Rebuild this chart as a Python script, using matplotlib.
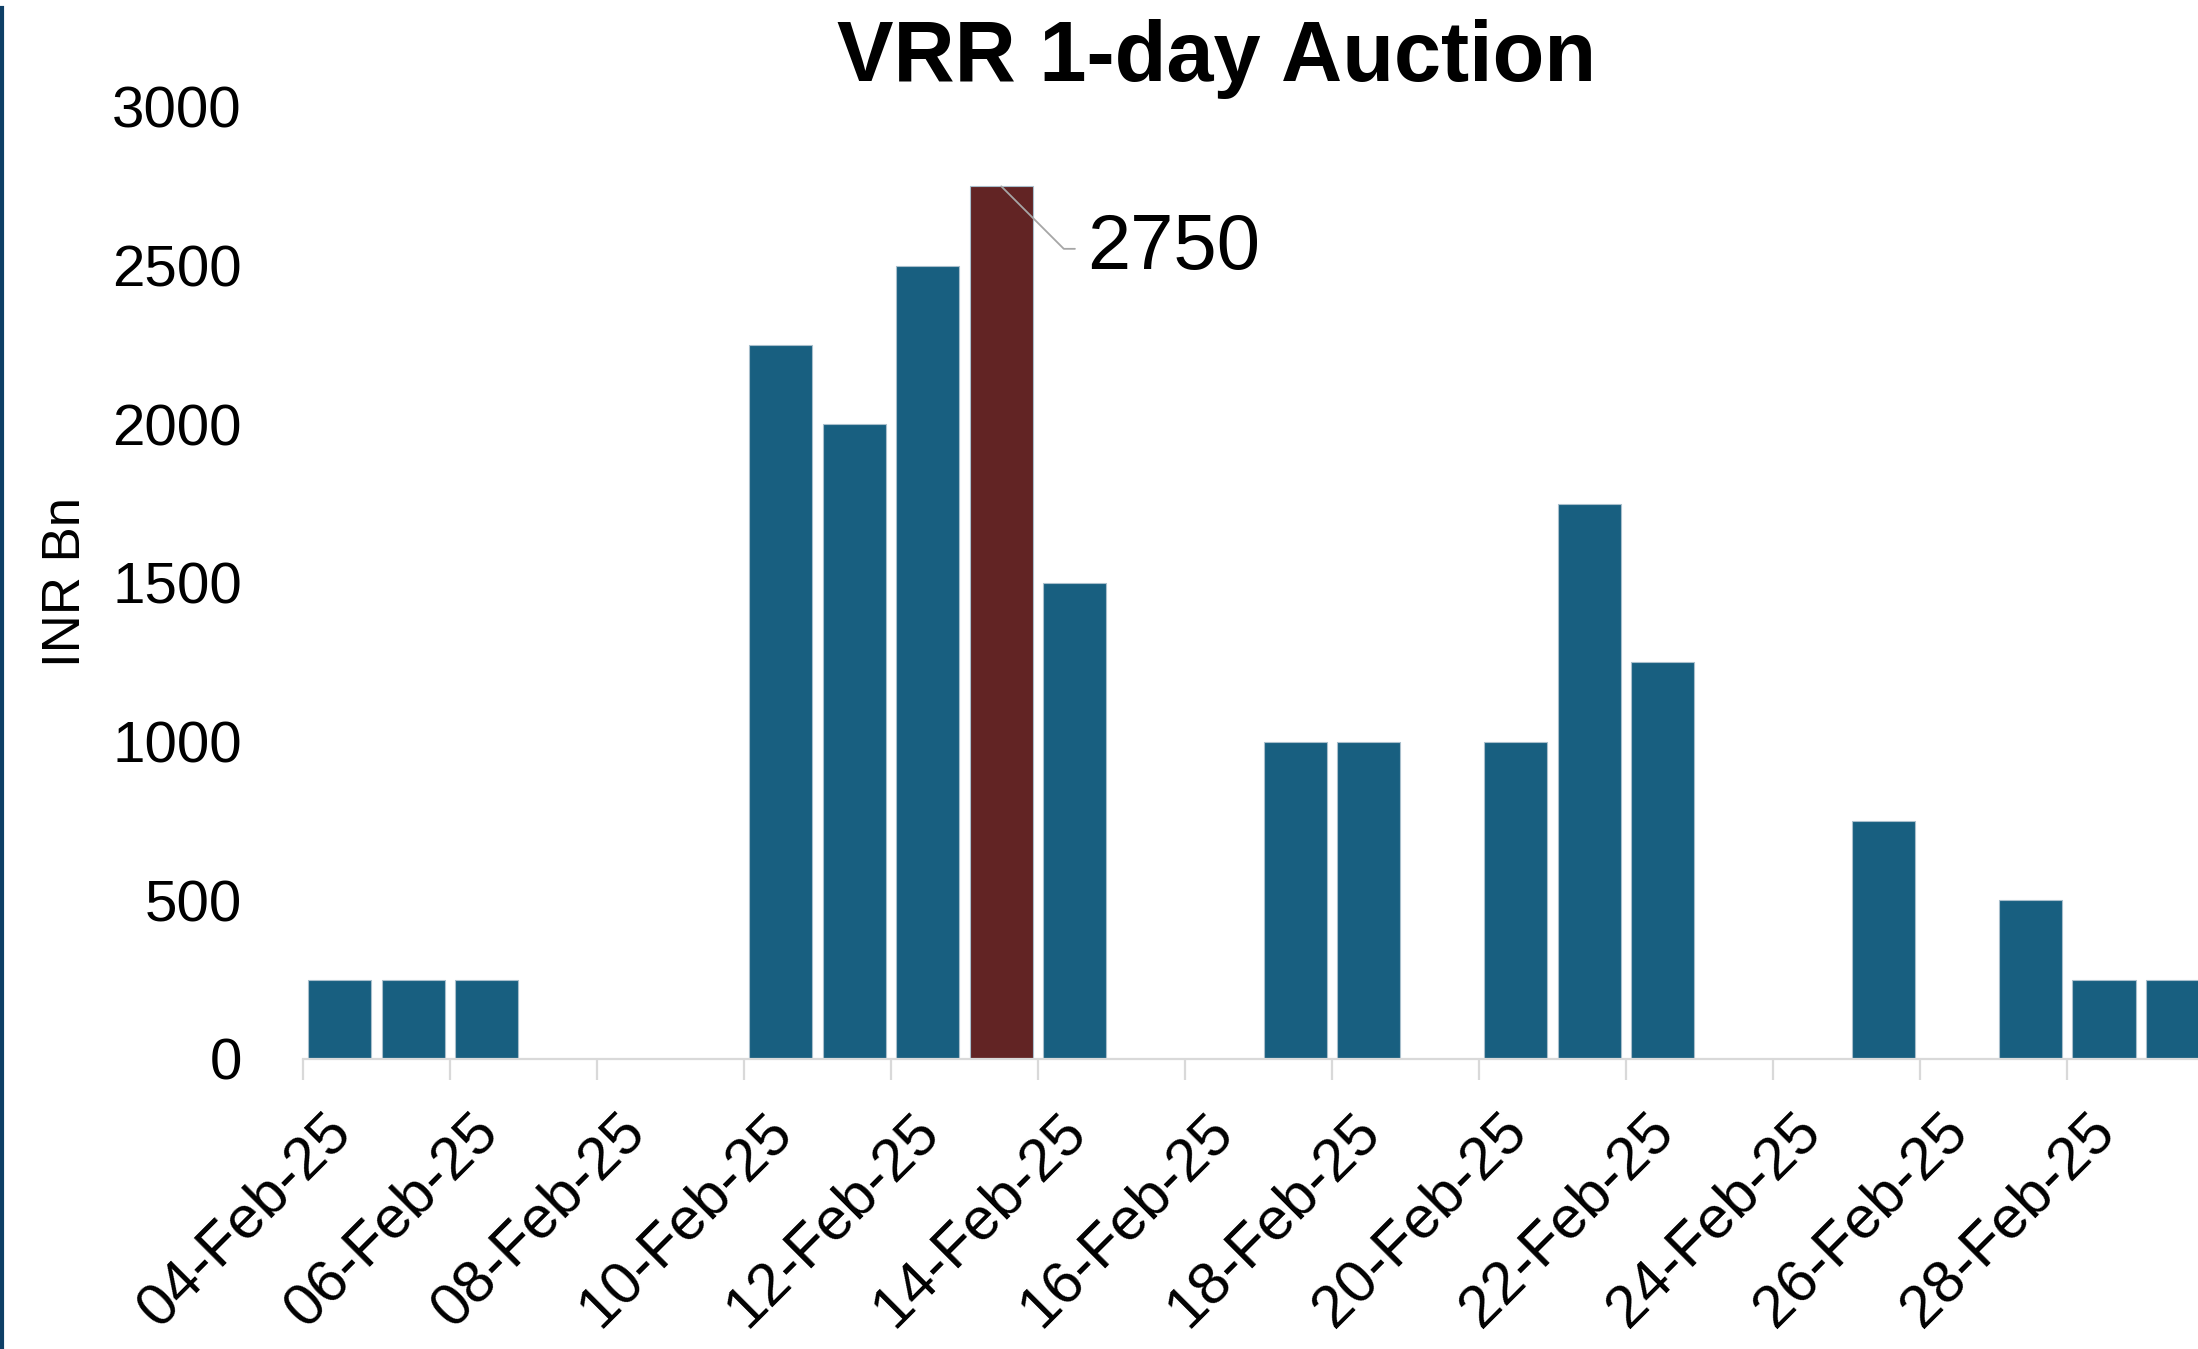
import numpy as np
import matplotlib
matplotlib.use('Agg')
import matplotlib.pyplot as plt
import matplotlib.dates as mdates
import matplotlib.transforms as mtransforms

plt.rcParams['font.family'] = ['Liberation Sans', 'DejaVu Sans']

# auction dates and amounts (INR Bn)
dates = ['2025-02-04', '2025-02-05', '2025-02-06', '2025-02-10', '2025-02-11',
         '2025-02-12', '2025-02-13', '2025-02-14', '2025-02-17', '2025-02-18',
         '2025-02-20', '2025-02-21', '2025-02-22', '2025-02-25', '2025-02-27',
         '2025-02-28', '2025-03-01']
amounts = [250, 250, 250, 2250, 2000, 2500, 2750, 1500, 1000, 1000,
           1000, 1750, 1250, 750, 500, 250, 250]
peak_date = '2025-02-13'
tick_dates = ['2025-02-04', '2025-02-06', '2025-02-08', '2025-02-10', '2025-02-12',
              '2025-02-14', '2025-02-16', '2025-02-18', '2025-02-20', '2025-02-22',
              '2025-02-24', '2025-02-26', '2025-02-28']

blue = '#185f80'
red = '#622424'

x = mdates.date2num(np.array(dates, dtype='datetime64[D]'))
peak = mdates.date2num(np.datetime64(peak_date))
colors = [red if d == peak else blue for d in x]
peak_val = amounts[list(x).index(peak)]

fig = plt.figure(figsize=(21.98, 13.49), dpi=100)
ax = fig.add_axes([303 / 2198, 1 - 1059 / 1349, 1 - 303 / 2198, (1059 - 107) / 1349])

ax.bar(x + 0.5, amounts, width=0.86, color=colors, edgecolor='#a9bfcc', linewidth=0.8, zorder=2)

ax.set_xticks(mdates.date2num(np.array(tick_dates, dtype='datetime64[D]')))
ax.xaxis.set_major_formatter(mdates.DateFormatter('%d-%b-%y'))
start = mdates.date2num(np.datetime64(tick_dates[0]))
ax.set_xlim(start, start + 25.78)
ax.set_ylim(0, 3000)
ax.set_yticks(np.arange(0, 3001, 500))

for s in ['top', 'right', 'left']:
    ax.spines[s].set_visible(False)
ax.spines['bottom'].set_color('#d9d9d9')
ax.spines['bottom'].set_linewidth(1.6)

ax.tick_params(axis='y', length=0, pad=44, labelsize=42)
ax.tick_params(axis='x', length=15, width=1.6, color='#d9d9d9', pad=31, labelsize=43)

offset = mtransforms.ScaledTranslation(0.39, 0, fig.dpi_scale_trans)
for lab in ax.get_xticklabels():
    lab.set_rotation(45)
    lab.set_ha('right')
    lab.set_va('center')
    lab.set_rotation_mode('anchor')
    lab.set_transform(lab.get_transform() + offset)

# peak label with leader line
ax.annotate(str(peak_val), xy=(peak + 0.5, peak_val), xytext=(62, -45),
            textcoords='offset points', fontsize=56, ha='left', va='center',
            arrowprops=dict(arrowstyle='-', color='#a6a6a6', lw=1.3,
                            connectionstyle='angle,angleA=0,angleB=-45,rad=0',
                            relpos=(0, 0.5), shrinkA=7, shrinkB=0))

fig.text(1217 / 2198, 1 - 59 / 1349, 'VRR 1-day Auction', fontsize=61,
         fontweight='bold', ha='center', va='center')
fig.text(66 / 2198, 1 - 582 / 1349, 'INR Bn', fontsize=38, rotation=90,
         ha='center', va='center')

# dark frame line on the left edge
fig.add_artist(plt.Line2D([2 / 2198, 2 / 2198], [0, 1 - 8 / 1349],
                          transform=fig.transFigure, color='#0e3f66', lw=3))

fig.savefig('out.png', dpi=100)
